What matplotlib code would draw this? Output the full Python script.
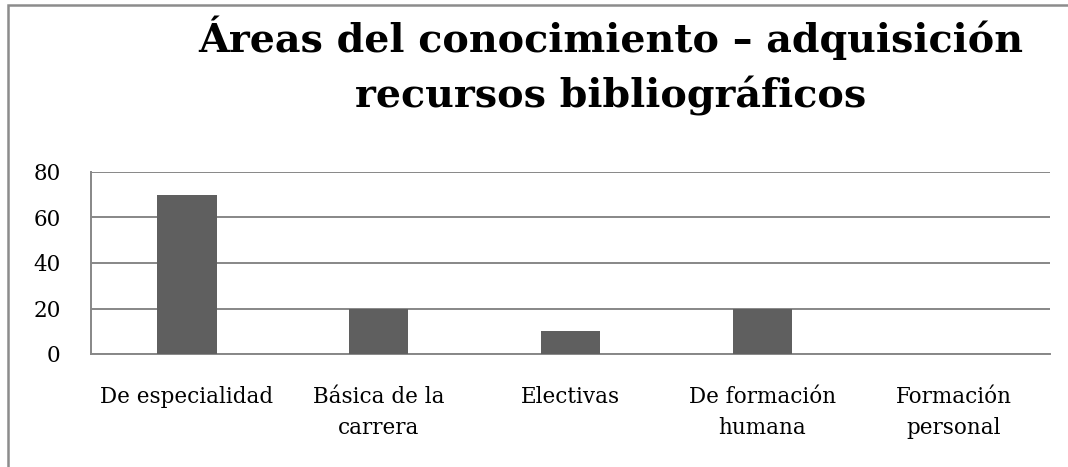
import matplotlib.pyplot as plt
from matplotlib.patches import Rectangle

categorias = ["De especialidad", "Básica de la\ncarrera", "Electivas",
              "De formación\nhumana", "Formación\npersonal"]
valores = [70, 20, 10, 20, 0]
yticks = [0, 20, 40, 60, 80]
titulo = "Áreas del conocimiento – adquisición\nrecursos bibliográficos"

plt.rcParams["font.family"] = ["DejaVu Serif"]

W, H = 1068, 467
fig = plt.figure(figsize=(W / 100, H / 100), dpi=100)
ax = fig.add_axes([91 / W, 1 - 354 / H, (1050 - 91) / W, (354 - 172) / H])

# marco exterior del gráfico (solo se ven borde izquierdo y superior)
fig.patches.append(Rectangle((8 / W, -0.5), 2, 1.5 - 5 / H, transform=fig.transFigure,
                             fill=False, edgecolor="#8c8c8c", linewidth=1.8))

x = range(len(categorias))
ax.bar(x, valores, width=0.31, color="#5f5f5f", zorder=3)
ax.set_xlim(-0.5, len(categorias) - 0.5)
ax.set_ylim(0, 80)
ax.set_yticks(yticks)
ax.set_xticks(list(x))
ax.set_xticklabels(categorias, fontsize=15.5, linespacing=1.55)
ax.tick_params(axis="x", length=0, pad=23)
ax.tick_params(axis="y", length=0, pad=22, labelsize=15.5)
ax.grid(axis="y", color="#878787", linewidth=1.4, zorder=0)
for s in ["top", "right"]:
    ax.spines[s].set_visible(False)
for s in ["left", "bottom"]:
    ax.spines[s].set_color("#878787")
    ax.spines[s].set_linewidth(1.4)

fig.text(611 / W, 1 - 16 / H, titulo, ha="center", va="top", fontsize=28.5,
         fontweight="bold", linespacing=1.5)

fig.savefig("out.png", dpi=100)
